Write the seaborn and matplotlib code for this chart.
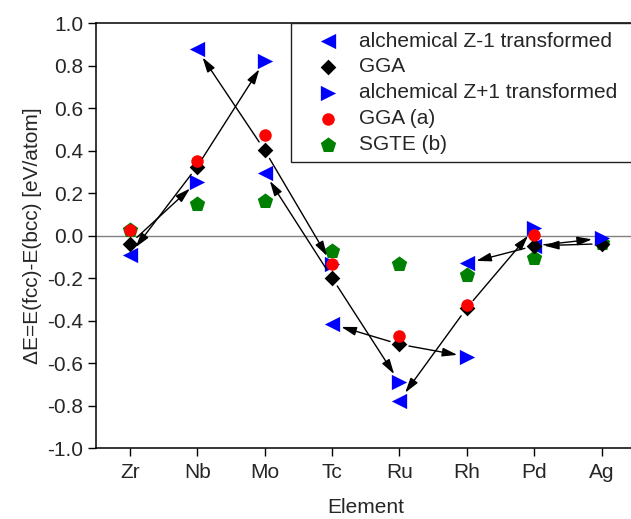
import numpy as np
import pandas as pd
import matplotlib
matplotlib.use("Agg")
import matplotlib.pyplot as plt
import seaborn as sns

# ---- data ----
elements = ["Zr", "Nb", "Mo", "Tc", "Ru", "Rh", "Pd", "Ag"]
z_minus_1 = [-0.091, 0.877, 0.296, -0.416, -0.776, -0.130, -0.048, np.nan]
gga = [-0.039, 0.325, 0.403, -0.198, -0.511, -0.340, -0.048, -0.038]
z_plus_1 = [np.nan, 0.253, 0.822, -0.135, -0.690, -0.569, 0.034, -0.012]
gga_a = [0.027, 0.353, 0.474, -0.135, -0.470, -0.328, 0.002, np.nan]
sgte = [0.025, 0.149, 0.162, -0.072, -0.133, -0.183, -0.106, -0.033]
ytick_values = [-1.0, -0.8, -0.6, -0.4, -0.2, 0.0, 0.2, 0.4, 0.6, 0.8, 1.0]
ytick_labels = ["-1.0", "-0.8", "-0.6", "-0.4", "-0.2", "0.0", "0.2", "0.4", "0.6", "0.8", "1.0"]

sns.set_style("ticks")
plt.rcParams["font.family"] = ["Liberation Sans", "DejaVu Sans"]
plt.rcParams["axes.unicode_minus"] = False

fig = plt.figure(figsize=(6.31, 5.19), dpi=100)
ax = fig.add_axes([96 / 631, 70.8 / 519, 539.4 / 631, 425 / 519])

x = np.arange(len(elements))
series = [
    ("alchemical Z-1 transformed", z_minus_1, "<", "#0000ff", 121, 3),
    ("GGA", gga, "D", "#000000", 64, 5),
    ("alchemical Z+1 transformed", z_plus_1, ">", "#0000ff", 121, 6),
    ("GGA (a)", gga_a, "o", "#ff0000", 81, 7),
    ("SGTE (b)", sgte, "p", "#008000", 135, 4),
]
for label, vals, mk, col, s, z in series:
    df = pd.DataFrame({"x": x, "y": vals}).dropna()
    sns.scatterplot(data=df, x="x", y="y", marker=mk, color=col, s=s,
                    linewidth=0, label=label, zorder=z, ax=ax)

# arrows: GGA -> Z+1 of next element, GGA -> Z-1 of previous element
arrow_kw = dict(arrowstyle="-|>,head_length=0.75,head_width=0.22",
                color="black", lw=1.0, shrinkA=7, shrinkB=7, mutation_scale=12)
for i in range(len(elements)):
    if i + 1 < len(elements) and not np.isnan(z_plus_1[i + 1]):
        ax.annotate("", xy=(x[i + 1], z_plus_1[i + 1]), xytext=(x[i], gga[i]),
                    arrowprops=arrow_kw, zorder=8)
    if i - 1 >= 0 and not np.isnan(z_minus_1[i - 1]):
        ax.annotate("", xy=(x[i - 1], z_minus_1[i - 1]), xytext=(x[i], gga[i]),
                    arrowprops=arrow_kw, zorder=8)

ax.axhline(0, color="#808080", lw=1.0, zorder=0.5)

ax.set_xlim(-0.5, 7.5)
ax.set_ylim(-1.0, 1.0)
ax.set_xticks(x, elements)
ax.set_yticks(ytick_values, ytick_labels)
ax.tick_params(axis="both", direction="out", length=5.5, width=1.0,
               labelsize=15, pad=3.5, color="black")
ax.tick_params(axis="x", pad=5)
for sp in ax.spines.values():
    sp.set_linewidth(1.1)
    sp.set_color("black")

ax.set_xlabel("Element", fontsize=15)
ax.set_ylabel("\u0394E=E(fcc)-E(bcc) [eV/atom]", fontsize=15)
ax.xaxis.set_label_coords(0.5, -0.118)
ax.yaxis.set_label_coords(-0.100, 0.5)

x0 = (290.7 - 96) / 539.4
leg = ax.legend(loc="upper left", bbox_to_anchor=(x0, 0, 1 - x0, 1), mode="expand",
                borderaxespad=0, frameon=True, fancybox=False, fontsize=15,
                labelspacing=0.33, borderpad=0.4, handlelength=2.8,
                handletextpad=0.1, scatterpoints=1)
leg.get_frame().set_edgecolor("#222222")
leg.get_frame().set_linewidth(1.0)
leg.get_frame().set_alpha(1)
leg.set_zorder(10)

fig.savefig("out.png", dpi=100)
